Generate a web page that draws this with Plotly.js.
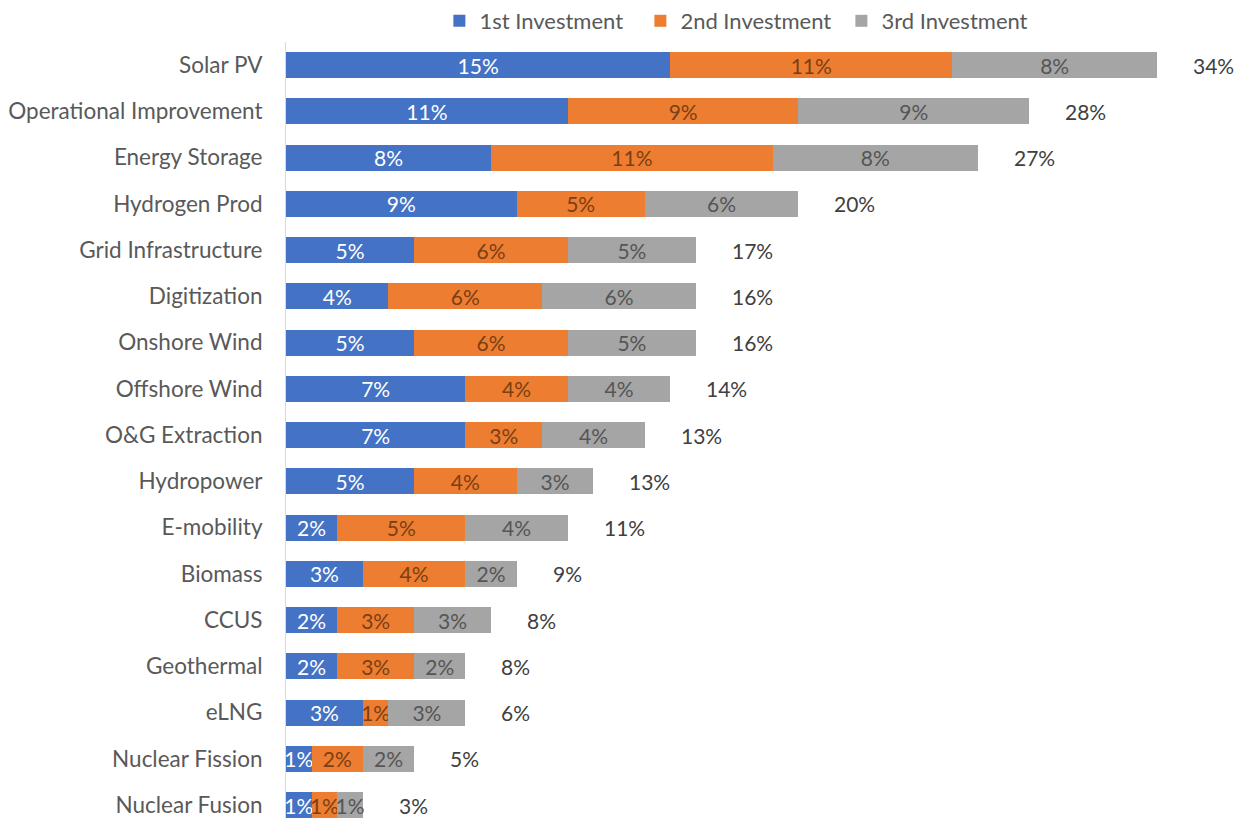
<!DOCTYPE html>
<html>
<head>
<meta charset="utf-8">
<script src="https://cdn.plot.ly/plotly-3.0.1.min.js"></script>
<style>html,body{margin:0;padding:0;background:#fff;}#chart{width:1241px;height:818px;}</style>
</head>
<body>
<div id="chart"></div>
<script>
// Categories (top to bottom)
const categories = ["Solar PV","Operational Improvement","Energy Storage","Hydrogen Prod","Grid Infrastructure","Digitization","Onshore Wind","Offshore Wind","O&G Extraction","Hydropower","E-mobility","Biomass","CCUS","Geothermal","eLNG","Nuclear Fission","Nuclear Fusion"];
// Series values (%)
const firstInvestment  = [15,11,8,9,5,4,5,7,7,5,2,3,2,2,3,1,1];
const secondInvestment = [11,9,11,5,6,6,6,4,3,4,5,4,3,3,1,2,1];
const thirdInvestment  = [8,9,8,6,5,6,5,4,4,3,4,2,3,2,3,2,1];
// Total labels as printed on the chart
const totalLabels = ["34%","28%","27%","20%","17%","16%","16%","14%","13%","13%","11%","9%","8%","8%","6%","5%","3%"];
const seriesNames = ["1st Investment","2nd Investment","3rd Investment"];

const FONT = "Lato, 'Open Sans', sans-serif";
const colors = ["#4472C4","#ED7D31","#A5A5A5"];
const textColors = ["#ffffff","#7b3f14","#555555"];
const series = [firstInvestment, secondInvestment, thirdInvestment];

const traces = series.map((vals, i) => ({
  type: "bar",
  orientation: "h",
  name: seriesNames[i],
  y: categories,
  x: vals,
  marker: {color: colors[i], line: {width: 0}},
  text: vals.map(v => v + "%"),
  textposition: "inside",
  insidetextanchor: "middle",
  textangle: 0,
  constraintext: "none",
  cliponaxis: false,
  insidetextfont: {family: FONT, size: 21, color: textColors[i]},
  hoverinfo: "skip"
}));

const totals = categories.map((c, i) => firstInvestment[i] + secondInvestment[i] + thirdInvestment[i]);
const annotations = categories.map((c, i) => ({
  x: totals[i], y: c, xref: "x", yref: "y",
  text: totalLabels[i], showarrow: false,
  xanchor: "left", xshift: 34,
  font: {family: FONT, size: 21, color: "#404040"}
}));

const layout = {
  width: 1241, height: 818,
  margin: {l: 286, r: 7, t: 41, b: 0, pad: 0},
  paper_bgcolor: "#ffffff", plot_bgcolor: "#ffffff",
  barmode: "stack",
  bargap: 0.44,
  showlegend: true,
  legend: {
    orientation: "h",
    xref: "container", yref: "container",
    x: 0.597, xanchor: "center",
    y: 1, yanchor: "top",
    font: {family: FONT, size: 22, color: "#595959"},
    entrywidth: 156, entrywidthmode: "pixels",
    traceorder: "normal",
    itemclick: false, itemdoubleclick: false
  },
  xaxis: {range: [0, 37], visible: false, fixedrange: true},
  yaxis: {
    type: "category",
    range: [16.28, -0.5],
    showline: true, linecolor: "#D9D9D9", linewidth: 1,
    showgrid: false, zeroline: false,
    ticks: "", ticklen: 0,
    ticklabelstandoff: 18,
    tickfont: {family: FONT, size: 22.5, color: "#595959"},
    fixedrange: true
  },
  annotations: annotations,
  font: {family: FONT}
};

Plotly.newPlot("chart", traces, layout, {displayModeBar: false, staticPlot: true});
</script>
</body>
</html>
